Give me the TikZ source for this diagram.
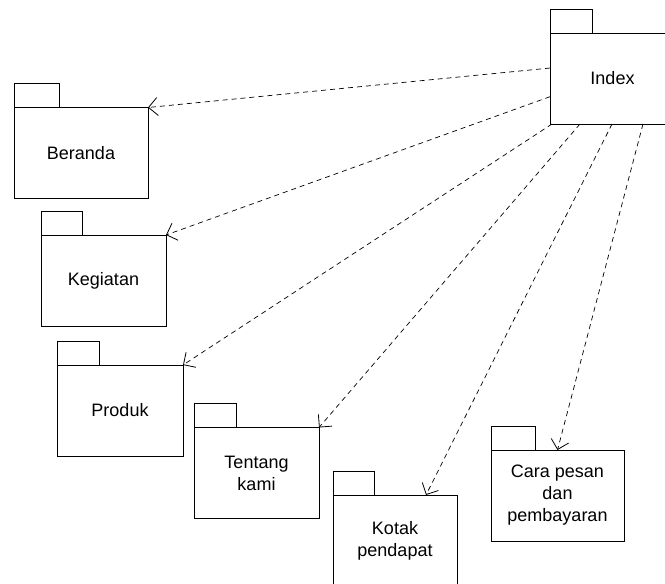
\documentclass[tikz,border=0pt]{standalone}
\usepackage{fontspec}
\setmainfont{Liberation Sans}
\usetikzlibrary{arrows.meta,calc}
\begin{document}
\begin{tikzpicture}[x=1pt,y=-1pt,
  pkg/.style={draw, line width=1pt, minimum height=91pt, inner sep=0pt, outer sep=0pt,
    align=center, font=\fontsize{18}{22}\selectfont},
  pkgtab/.style={draw, line width=1pt, minimum width=42pt, minimum height=24pt,
    inner sep=0pt, outer sep=0pt, anchor=south west},
  dep/.style={draw, line width=0.7pt, dash pattern=on 5pt off 4pt,
    -{Straight Barb[length=9pt,width=18pt,line width=0.8pt]}}]
\clip (0,0) rectangle (665,584);
\fill[white] (0,0) rectangle (665,584);
% packages
\node[pkg, minimum width=125pt] (index) at (612.5,78.5) {Index};
\node[pkgtab] (indextab) at (index.north west) {};
\node[pkg, minimum width=134pt] (beranda) at (81,153) {Beranda};
\node[pkgtab, minimum width=45pt] (berandatab) at (beranda.north west) {};
\node[pkg, minimum width=125pt] (kegiatan) at (103.5,280.5) {Kegiatan};
\node[pkgtab, minimum width=41pt] (kegiatantab) at (kegiatan.north west) {};
\node[pkg, minimum width=126pt] (produk) at (120,410.5) {Produk};
\node[pkgtab] (produktab) at (produk.north west) {};
\node[pkg, minimum width=125pt] (tentang) at (256.5,473) {Tentang\\kami};
\node[pkgtab] (tentangtab) at (tentang.north west) {};
\node[pkg, minimum width=124pt] (kotak) at (395,540.5) {Kotak\\pendapat};
\node[pkgtab, minimum width=41pt] (kotaktab) at (kotak.north west) {};
\node[pkg, minimum width=133pt] (cara) at (557.5,495.5) {Cara pesan\\dan\\pembayaran};
\node[pkgtab, minimum width=44pt] (caratab) at (cara.north west) {};
% dependencies
\draw[dep] ($(index.north west)!0.385!(index.south west)$) -- (beranda.north east);
\draw[dep] ($(index.north west)!0.70!(index.south west)$) -- (kegiatan.north east);
\draw[dep] ($(index.south west)+(2,0)$) -- (produk.north east);
\draw[dep] ($(index.south west)+(30,0)$) -- (tentang.north east);
\draw[dep] ($(index.south west)+(62,0)$) -- ($(kotak.north west)!0.75!(kotak.north east)$);
\draw[dep] ($(index.south west)+(93,0)$) -- (cara.north);
\end{tikzpicture}
\end{document}
